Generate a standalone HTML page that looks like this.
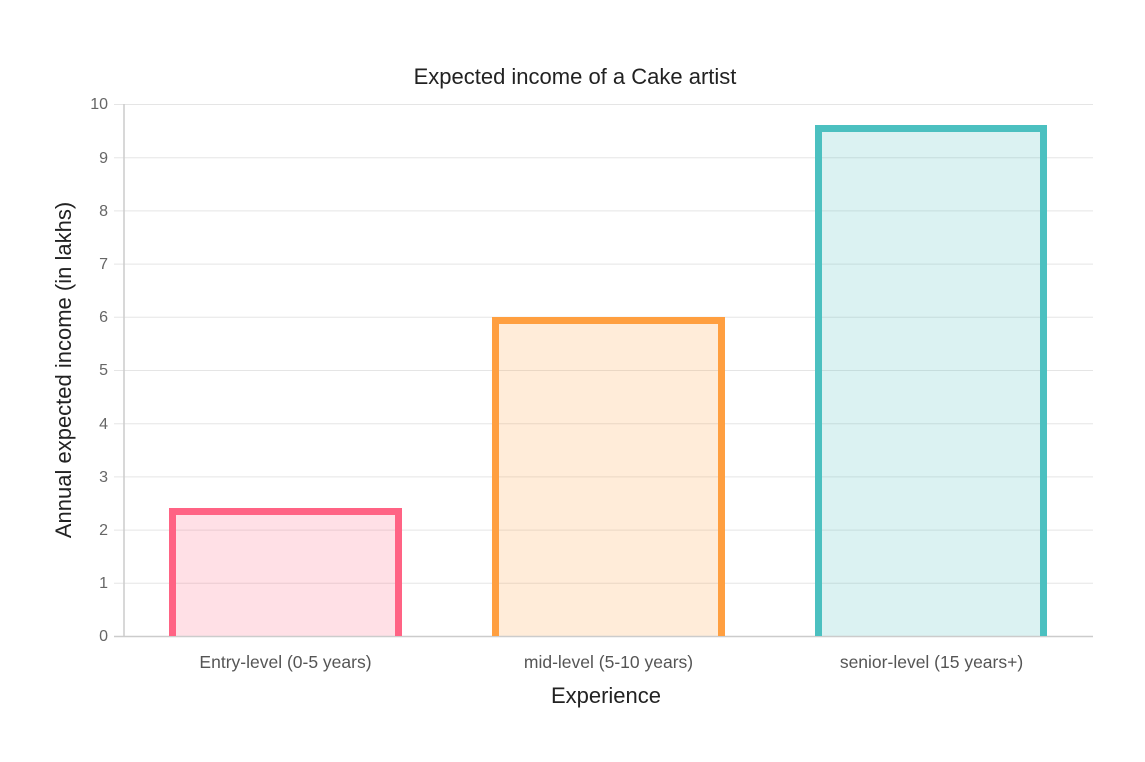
<!DOCTYPE html>
<html><head><meta charset="utf-8"><style>
html,body{margin:0;padding:0;background:#fff;}
svg{display:block;font-family:"Liberation Sans",Arial,sans-serif;}
</style></head><body>
<svg width="1145" height="762" viewBox="0 0 1145 762">
<g stroke="#e5e5e5" stroke-width="1">
<line x1="114" y1="104.5" x2="1093" y2="104.5"/>
<line x1="114" y1="157.7" x2="1093" y2="157.7"/>
<line x1="114" y1="210.9" x2="1093" y2="210.9"/>
<line x1="114" y1="264.1" x2="1093" y2="264.1"/>
<line x1="114" y1="317.3" x2="1093" y2="317.3"/>
<line x1="114" y1="370.5" x2="1093" y2="370.5"/>
<line x1="114" y1="423.7" x2="1093" y2="423.7"/>
<line x1="114" y1="476.9" x2="1093" y2="476.9"/>
<line x1="114" y1="530.1" x2="1093" y2="530.1"/>
<line x1="114" y1="583.3" x2="1093" y2="583.3"/>
</g>
<rect x="169" y="508" width="233" height="128" fill="rgba(255,99,132,0.2)"/>
<rect x="492" y="317" width="233" height="319" fill="rgba(255,159,64,0.2)"/>
<rect x="815" y="125" width="232" height="511" fill="rgba(75,192,192,0.2)"/>
<line x1="114" y1="636.5" x2="1093" y2="636.5" stroke="#ccc" stroke-width="1.5"/>
<line x1="124" y1="104" x2="124" y2="637" stroke="#ccc" stroke-width="1.5"/>
<g fill="none" stroke-width="7">
<path d="M172.5 636 V511.5 H398.5 V636" stroke="#ff6384"/>
<path d="M495.5 636 V320.5 H721.5 V636" stroke="#ff9f40"/>
<path d="M818.5 636 V128.5 H1043.5 V636" stroke="#4bc0c0"/>
</g>
<g font-size="16" fill="#666" text-anchor="end">
<text x="108" y="109">10</text>
<text x="108" y="163">9</text>
<text x="108" y="216">8</text>
<text x="108" y="269">7</text>
<text x="108" y="322">6</text>
<text x="108" y="375">5</text>
<text x="108" y="429">4</text>
<text x="108" y="482">3</text>
<text x="108" y="535">2</text>
<text x="108" y="588">1</text>
<text x="108" y="641">0</text>
</g>
<g font-size="17.5" fill="#555" text-anchor="middle">
<text x="285.5" y="668">Entry-level (0-5 years)</text>
<text x="608.5" y="668">mid-level (5-10 years)</text>
<text x="931.5" y="668">senior-level (15 years+)</text>
</g>
<text x="575" y="84" font-size="22" fill="#222" text-anchor="middle">Expected income of a Cake artist</text>
<text x="606" y="703" font-size="22" fill="#222" text-anchor="middle">Experience</text>
<text transform="translate(71,370) rotate(-90)" font-size="22" fill="#222" text-anchor="middle">Annual expected income (in lakhs)</text>
</svg>
</body></html>
